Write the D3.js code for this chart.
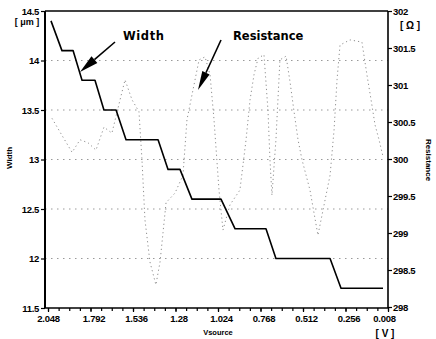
<!DOCTYPE html>
<html><head><meta charset="utf-8">
<script src="https://cdn.jsdelivr.net/npm/d3@7"></script>
<style>
html,body{margin:0;padding:0;background:#fff;}
svg{display:block;}
text{font-family:"Liberation Sans",Arial,sans-serif;font-weight:bold;fill:#000;}
</style></head>
<body>
<script>
// ---- data ----
const widthV = [2.030,1.964,1.897,1.843,1.765,1.711,1.638,1.578,1.385,1.325,1.253,1.181,1.006,0.921,0.735,0.675,0.349,0.283,0.030];
const widthVal = [14.4,14.1,14.1,13.8,13.8,13.5,13.5,13.2,13.2,12.9,12.9,12.6,12.6,12.3,12.3,12.0,12.0,11.7,11.7];

const resV = [2.024,1.964,1.903,1.855,1.807,1.759,1.711,1.663,1.614,1.584,1.542,1.500,1.482,1.464,1.434,1.398,1.373,1.355,1.337,1.283,1.235,1.211,1.175,1.138,1.102,1.072,1.048,1.018,0.994,0.952,0.892,0.855,0.831,0.807,0.783,0.747,0.723,0.711,0.699,0.675,0.651,0.614,0.590,0.566,0.542,0.518,0.470,0.422,0.385,0.349,0.325,0.307,0.289,0.229,0.157,0.127,0.102,0.078,0.054,0.030];
const resVal = [300.55,300.32,300.09,300.26,300.22,300.12,300.43,300.35,300.80,301.07,300.80,300.64,299.99,299.18,298.61,298.30,298.61,299.01,299.41,299.54,299.78,300.53,300.93,301.34,301.38,301.14,300.53,299.58,299.04,299.38,299.58,300.26,300.80,301.14,301.36,301.41,300.66,299.99,299.51,300.26,301.34,301.39,301.04,300.64,300.26,299.99,299.58,298.97,299.38,299.78,300.39,301.07,301.54,301.61,301.58,301.14,300.80,300.46,300.26,300.03];

const xTickVals = [2.048,1.792,1.536,1.28,1.024,0.768,0.512,0.256,0];
const xTickLabels = ["2.048","1.792","1.536","1.28","1.024","0.768","0.512","0.256","0.008"];
const leftTicks = [11.5,12,12.5,13,13.5,14,14.5];
const leftGrid = [12,12.5,13,13.5,14];
const rightTicks = [298,298.5,299,299.5,300,300.5,301,301.5,302];

// ---- layout ----
const W = 436, H = 339;
const svg = d3.select("body").append("svg").attr("width",W).attr("height",H);
svg.append("rect").attr("width",W).attr("height",H).attr("fill","#fff");

const x = d3.scaleLinear().domain([2.048,0]).range([48,388]);
const yL = d3.scaleLinear().domain([11.5,14.5]).range([308,11]);
const yR = d3.scaleLinear().domain([298,302]).range([307,11]);
const L = 45, R = 388, T = 11, B = 308;

// gridlines
svg.append("g").selectAll("line").data(leftGrid).join("line")
  .attr("x1",L).attr("x2",R).attr("y1",d=>yL(d)).attr("y2",d=>yL(d))
  .attr("stroke","#9a9a9a").attr("stroke-width",1).attr("stroke-dasharray","1.5,4.5");

// resistance (dotted)
svg.append("path").datum(resV.map((v,i)=>[v,resVal[i]]))
  .attr("fill","none").attr("stroke","#8f8f8f").attr("stroke-width",1)
  .attr("stroke-dasharray","1.2,3")
  .attr("d", d3.line().x(d=>x(d[0])).y(d=>yR(d[1])));

// width (solid)
svg.append("path").datum(widthV.map((v,i)=>[v,widthVal[i]]))
  .attr("fill","none").attr("stroke","#000").attr("stroke-width",1.6)
  .attr("stroke-linejoin","round")
  .attr("d", d3.line().x(d=>x(d[0])).y(d=>yL(d[1])));

// axes
const axL = svg.append("g").attr("transform",`translate(${L},0)`)
  .call(d3.axisLeft(yL).tickValues(leftTicks).tickSize(4).tickPadding(2).tickFormat(d3.format("")));
const axR = svg.append("g").attr("transform",`translate(${R},0)`)
  .call(d3.axisRight(yR).tickValues(rightTicks).tickSize(4).tickPadding(1).tickFormat(d3.format("")));
const xMinor = d3.range(0,33).map(i=>i*0.064);
const axBm = svg.append("g").attr("transform",`translate(0,${B})`)
  .call(d3.axisBottom(x).tickValues(xMinor).tickSize(3).tickFormat(""));
const axB = svg.append("g").attr("transform",`translate(0,${B})`)
  .call(d3.axisBottom(x).tickValues(xTickVals).tickSize(4).tickPadding(3)
    .tickFormat((d,i)=>xTickLabels[i]));

[axL,axR,axB,axBm].forEach(a=>{
  a.select(".domain").remove();
  a.selectAll("line").attr("stroke","#000").attr("stroke-width",1.2);
  a.selectAll("text").style("font-size","9.5px").style("font-weight","bold")
   .style("font-family","'Liberation Sans',Arial,sans-serif").attr("letter-spacing","-0.3");
});
axB.selectAll("text").attr("dx",(d,i)=> i===0?0:(i===xTickVals.length-1?-4:3));

// frame lines
svg.append("line").attr("x1",L).attr("x2",L).attr("y1",T).attr("y2",B).attr("stroke","#000").attr("stroke-width",2);
svg.append("line").attr("x1",R).attr("x2",R).attr("y1",T).attr("y2",B).attr("stroke","#000").attr("stroke-width",1.6);
svg.append("line").attr("x1",L).attr("x2",R).attr("y1",B).attr("y2",B).attr("stroke","#000").attr("stroke-width",1.6);
svg.append("line").attr("x1",L).attr("x2",R).attr("y1",T).attr("y2",T).attr("stroke","#000").attr("stroke-width",1.3);

// unit labels
svg.append("text").attr("x",27).attr("y",25).attr("text-anchor","middle").style("font-size","9px").text("[ μm ]");
svg.append("text").attr("x",410).attr("y",29).attr("text-anchor","middle").style("font-size","10px").text("[ Ω ]");
svg.append("text").attr("x",385).attr("y",337).attr("text-anchor","middle").style("font-size","10px").text("[ V ]");
svg.append("text").attr("x",218).attr("y",335).attr("text-anchor","middle").style("font-size","7.5px").text("Vsource");

// axis titles
svg.append("text").attr("transform","translate(12,158) rotate(-90)").attr("text-anchor","middle").style("font-size","8px").text("Width");
svg.append("text").attr("transform","translate(426,160) rotate(90)").attr("text-anchor","middle").style("font-size","8px").text("Resistance");

// annotations
svg.append("text").attr("x",123).attr("y",40).style("font-size","11.5px").style("font-family","'DejaVu Sans',sans-serif").attr("letter-spacing","0.6").text("Width");
svg.append("text").attr("x",233).attr("y",40).style("font-size","11.5px").style("font-family","'DejaVu Sans',sans-serif").text("Resistance");

function arrow(x1,y1,x2,y2,len,wid){
  const a = Math.atan2(y2-y1,x2-x1);
  const bx = x2 - len*Math.cos(a), by = y2 - len*Math.sin(a);
  svg.append("line").attr("x1",x1).attr("y1",y1).attr("x2",bx).attr("y2",by).attr("stroke","#000").attr("stroke-width",1.6);
  const px = -Math.sin(a)*wid/2, py = Math.cos(a)*wid/2;
  svg.append("path").attr("d",`M${x2},${y2}L${bx+px},${by+py}L${bx-px},${by-py}Z`).attr("fill","#000");
}
arrow(115,42,80,72,19,9);
arrow(221,40,198,90,19,8);
</script>
</body></html>
